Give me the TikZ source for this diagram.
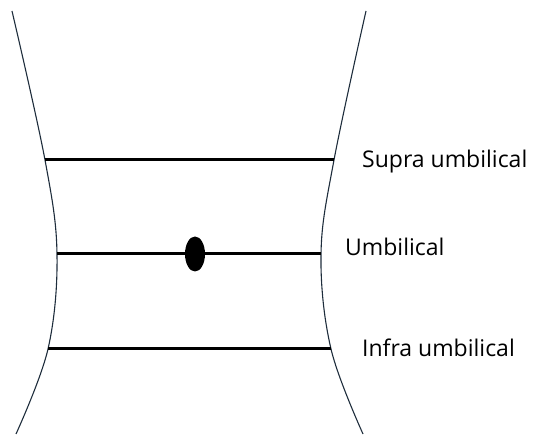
\documentclass[tikz,border=0pt]{standalone}
\usepackage{fontspec}
\setmainfont{Open Sans}
\usetikzlibrary{shapes.geometric}
\begin{document}
\begin{tikzpicture}[x=1pt,y=-1pt,
  side/.style={draw={rgb,255:red,30;green,45;blue,60},line width=1.1pt},
  level/.style={draw=black,line width=3pt},
  lab/.style={anchor=base west,inner sep=0pt,font=\fontsize{23}{27}\selectfont},
  navel/.style={ellipse,fill=black,minimum width=20pt,minimum height=35pt,inner sep=0pt}]
\useasboundingbox (0,0) rectangle (533,435);
\draw[side] plot[smooth,tension=0.6] coordinates {(12,11) (45,160) (57,254) (48,349) (16,434)};
\draw[side] plot[smooth,tension=0.6] coordinates {(366,11) (334,160) (321,254) (331,349) (363,434)};
\coordinate (s1) at (45,160); \coordinate (s2) at (334,160);
\coordinate (u1) at (57,254); \coordinate (u2) at (321,254);
\coordinate (i1) at (48,349); \coordinate (i2) at (331,349);
\draw[level] (s1) -- (s2);
\draw[level] (u1) -- (u2);
\draw[level] (i1) -- (i2);
\node[navel] (n) at (195,254) {};
\node[lab] (ls) at (362,168) {Supra umbilical};
\node[lab] (lu) at (345,256) {Umbilical};
\node[lab] (li) at (362,357) {Infra umbilical};
\end{tikzpicture}
\end{document}
